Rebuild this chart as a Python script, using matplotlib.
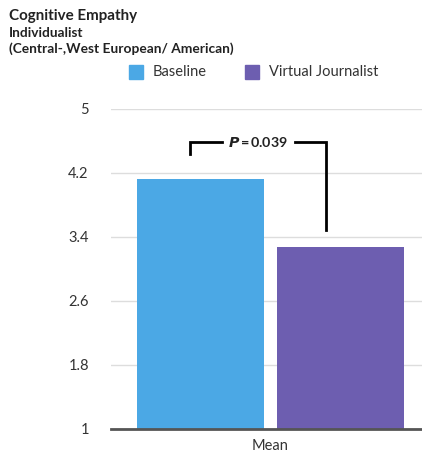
import matplotlib
matplotlib.use("Agg")
import matplotlib.pyplot as plt
from matplotlib.patches import Rectangle

# data
categories = ["Baseline", "Virtual Journalist"]
values = [4.13, 3.28]
colors = ["#4BA8E5", "#6D5EB0"]
group_label = "Mean"
yticks = [1, 1.8, 2.6, 3.4, 4.2, 5]
p_text = "0.039"

plt.rcParams['font.family'] = ['Lato', 'DejaVu Sans']

fig = plt.figure(figsize=(4.22, 4.55), dpi=100)
ax = fig.add_axes([111/422, 1 - 429/455, 311/422, 320/455])

offsets = [-0.55, 0.55]
for off, v, c in zip(offsets, values, colors):
    ax.bar(off, v - 1, bottom=1, width=1.0, color=c, zorder=3)

ax.set_xlim(-1.256, 1.193)
ax.set_ylim(1, 5)
ax.set_yticks(yticks)
ax.set_yticklabels(["1", "1.8", "2.6", "3.4", "4.2", "5"])
ax.set_xticks([0])
ax.set_xticklabels([group_label])
ax.tick_params(axis='y', length=0, pad=16, labelsize=10.5, labelcolor="#333333")
ax.tick_params(axis='x', length=0, pad=7, labelsize=10.5, labelcolor="#333333")
ax.grid(axis='y', color="#dddddd", linewidth=1, zorder=0)
for s in ["top", "right", "left"]:
    ax.spines[s].set_visible(False)
ax.spines["bottom"].set_color("#555555")
ax.spines["bottom"].set_linewidth(2)
ax.spines["bottom"].set_zorder(4)

# significance bracket
xl, xr = offsets[0] - 0.08, offsets[1] - 0.11
ytop = 4.59
ax.plot([xl, xl, xl + 0.25], [4.44, ytop, ytop], color="black", lw=2,
        clip_on=False, solid_joinstyle='miter', zorder=5)
ax.plot([xr - 0.25, xr, xr], [ytop, ytop, 3.49], color="black", lw=2,
        clip_on=False, solid_joinstyle='miter', zorder=5)
ax.text((xl + xr) / 2, ytop, r"$\bfit{P}$" + "\u2009=\u2009" + p_text,
        ha="center", va="center", fontsize=10.3, fontweight="bold", color="#222222")

# titles
fig.text(9/422, 1 - 16/455, "Cognitive Empathy", fontsize=10.9, fontweight="bold",
         va="center", color="#222222")
fig.text(9/422, 1 - 33/455, "Individualist", fontsize=9.8, fontweight="bold",
         va="center", color="#222222")
fig.text(9/422, 1 - 49/455, "(Central-,West European/ American)", fontsize=9.9,
         fontweight="bold", va="center", color="#222222")

# legend
leg_x = [129, 245]
for lx, name, c in zip(leg_x, categories, colors):
    fig.patches.append(Rectangle((lx/422, 1 - 79/455), 14/422, 14/455,
                                 transform=fig.transFigure, color=c))
    fig.text((lx + 24)/422, 1 - 72/455, name, fontsize=10.5, va="center",
             color="#333333")

fig.savefig("out.png", dpi=100)
